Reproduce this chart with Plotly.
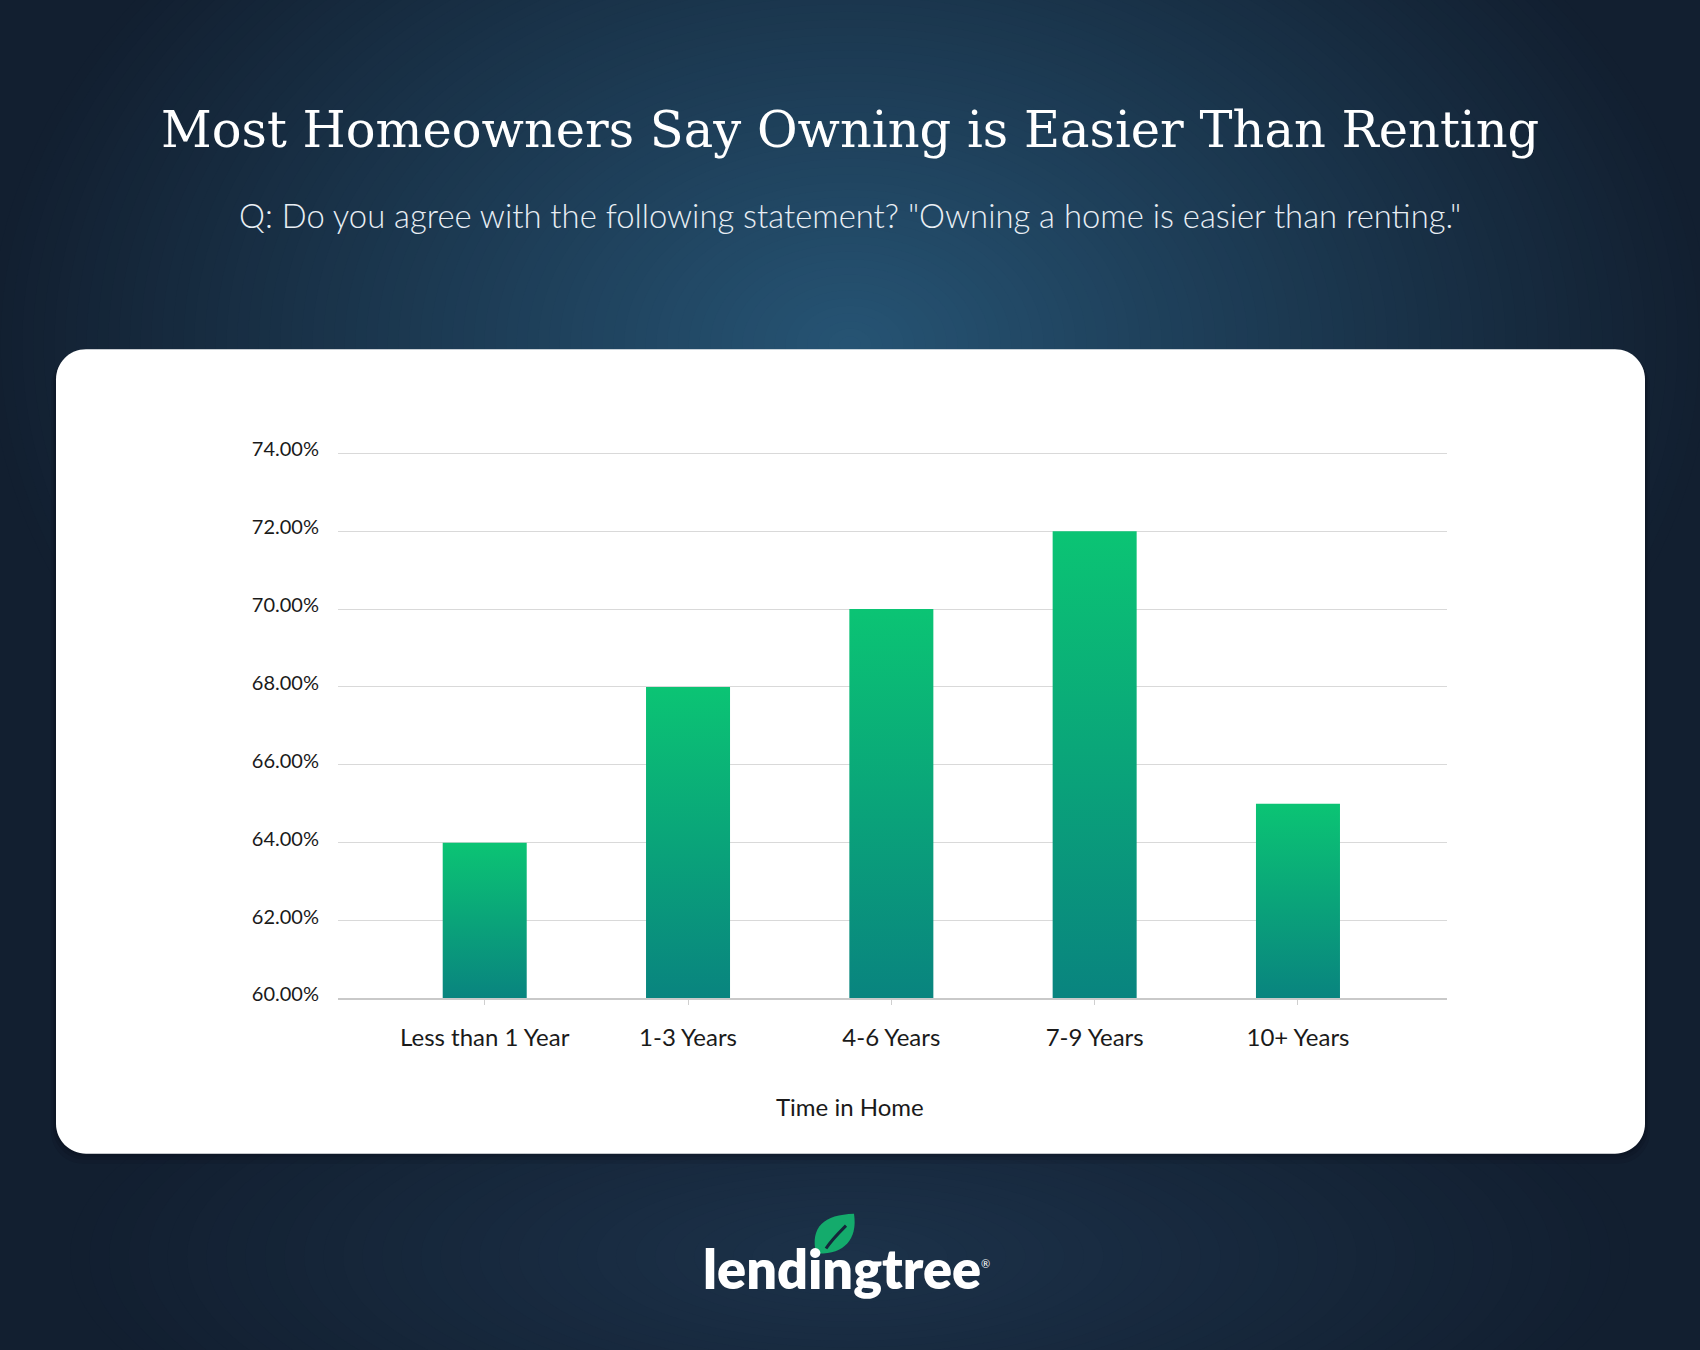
import plotly.graph_objects as go

# ---- data ----
categories = ["Less than 1 Year", "1-3 Years", "4-6 Years", "7-9 Years", "10+ Years"]
values = [64, 68, 70, 72, 65]
y_ticks = [60, 62, 64, 66, 68, 70, 72, 74]
y_tick_labels = ["60.00%", "62.00%", "64.00%", "66.00%", "68.00%", "70.00%", "72.00%", "74.00%"]

title_text = "Most Homeowners Say Owning is Easier Than Renting"
subtitle_text = 'Q: Do you agree with the following statement? "Owning a home is easier than renting."'
x_title = "Time in Home"

W, H = 1700, 1350
KY = 1.007  # small vertical calibration


def px(x):
    return x / W


def py(y):
    return 1 - (y * KY) / H


fig = go.Figure()

# gradient bars (one filled polygon per bar, gradient per bar)
half = 0.2066
for i, (c, v) in enumerate(zip(categories, values)):
    fig.add_trace(go.Scatter(
        x=[i - half, i + half, i + half, i - half, i - half],
        y=[y_ticks[0], y_ticks[0], v, v, y_ticks[0]],
        mode="lines", fill="toself", line=dict(width=0),
        fillgradient=dict(type="vertical",
                          colorscale=[[0, "#09847f"], [1, "#0bc474"]]),
        name=c, hoveron="fills", text=f"{c}: {v:.2f}%", hoverinfo="text",
        showlegend=False,
    ))

shapes = []
shapes.append(dict(type="rect", xref="paper", yref="paper", x0=0, x1=1, y0=0, y1=1,
                   fillcolor="#121f30", line=dict(width=0), layer="below"))


def radial(cx, cy, rx, ry, dark, light, n=60, power=1.0):
    out = []
    for k in range(n):
        s = 1 - k / n
        f = (1 - s) ** power
        col = tuple(round(d + (l - d) * f) for d, l in zip(dark, light))
        out.append(dict(type="circle", xref="paper", yref="paper",
                        x0=px(cx - rx * s), x1=px(cx + rx * s),
                        y0=py(cy + ry * s), y1=py(cy - ry * s),
                        fillcolor="rgb(%d,%d,%d)" % col, line=dict(width=0),
                        layer="below"))
    return out


shapes += radial(850, 1254, 780, 260, (18, 31, 48), (28, 50, 74), n=40, power=1.0)
shapes += radial(850, 340, 860, 620, (18, 31, 48), (38, 84, 116), n=80, power=1.0)


def rounded_rect(x0, y0, x1, y1, r):
    k = 0.5523 * r
    pts = [
        f"M{px(x0 + r)},{py(y0)}",
        f"L{px(x1 - r)},{py(y0)}",
        f"C{px(x1 - r + k)},{py(y0)} {px(x1)},{py(y0 + r - k)} {px(x1)},{py(y0 + r)}",
        f"L{px(x1)},{py(y1 - r)}",
        f"C{px(x1)},{py(y1 - r + k)} {px(x1 - r + k)},{py(y1)} {px(x1 - r)},{py(y1)}",
        f"L{px(x0 + r)},{py(y1)}",
        f"C{px(x0 + r - k)},{py(y1)} {px(x0)},{py(y1 - r + k)} {px(x0)},{py(y1 - r)}",
        f"L{px(x0)},{py(y0 + r)}",
        f"C{px(x0)},{py(y0 + r - k)} {px(x0 + r - k)},{py(y0)} {px(x0 + r)},{py(y0)}",
        "Z",
    ]
    return " ".join(pts)


card_top, card_bottom = 345, 1151
for off, op in [(10, 0.10), (6, 0.12), (3, 0.15)]:
    shapes.append(dict(type="path", xref="paper", yref="paper",
                       path=rounded_rect(56 - off / 2, card_top + off / 2, 1645 + off / 2, card_bottom + off, 32),
                       fillcolor="rgba(5,10,20,%s)" % op, line=dict(width=0), layer="below"))
shapes.append(dict(type="path", xref="paper", yref="paper",
                   path=rounded_rect(56, card_top, 1645, card_bottom, 30),
                   fillcolor="#ffffff", line=dict(width=0), layer="below"))

# leaf of logo
ly = 4
leaf = (f"M{px(816)},{py(1247 + ly)} "
        f"C{px(810)},{py(1220 + ly)} {px(824)},{py(1208 + ly)} {px(854)},{py(1207 + ly)} "
        f"C{px(858)},{py(1234 + ly)} {px(843)},{py(1248 + ly)} {px(816)},{py(1247 + ly)} Z")
shapes.append(dict(type="path", xref="paper", yref="paper", path=leaf,
                   fillcolor="#14ab6c", line=dict(width=0), layer="above"))
vein = (f"M{px(826)},{py(1242 + ly)} "
        f"C{px(831)},{py(1234 + ly)} {px(838)},{py(1227 + ly)} {px(846)},{py(1219 + ly)}")
shapes.append(dict(type="path", xref="paper", yref="paper", path=vein,
                   line=dict(color="#15263a", width=3), layer="above"))

annotations = [
    dict(text=title_text, x=0.5, y=py(125), xref="paper", yref="paper",
         showarrow=False, xanchor="center", yanchor="middle",
         font=dict(family="DejaVu Serif", size=49.5, color="#ffffff")),
    dict(text=subtitle_text, x=0.5, y=py(211), xref="paper", yref="paper",
         showarrow=False, xanchor="center", yanchor="middle",
         font=dict(family="Lato", size=32.8, color="#e8eef4", weight=300)),
    dict(text=x_title, x=0.5, y=py(1104), xref="paper", yref="paper",
         showarrow=False, xanchor="center", yanchor="middle",
         font=dict(family="Lato", size=24, color="#1a1a1a")),
    dict(text="lendingtree", x=px(842), y=py(1262 + ly), xref="paper", yref="paper",
         showarrow=False, xanchor="center", yanchor="middle",
         font=dict(family="Lato", size=54, color="#ffffff", weight=800)),
    dict(text="®", x=px(985), y=py(1257 + ly), xref="paper", yref="paper",
         showarrow=False, xanchor="center", yanchor="middle",
         font=dict(family="Lato", size=11, color="#ffffff")),
]

y_lo, y_hi = 60, 74.3
ppu = 39.0
y_bottom_px = 995.3
y_top_px = y_bottom_px - (y_hi - y_lo) * ppu

fig.update_layout(
    width=W, height=H,
    margin=dict(l=0, r=0, t=0, b=0),
    paper_bgcolor="#121f30",
    plot_bgcolor="rgba(0,0,0,0)",
    shapes=shapes,
    annotations=annotations,
    showlegend=False,
    xaxis=dict(
        domain=[px(338), px(1447)],
        range=[-0.7216, 4.733],
        tickmode="array", tickvals=list(range(len(categories))), ticktext=categories,
        showgrid=False, zeroline=False,
        showline=True, linecolor="#c9c9c9", linewidth=1.5,
        ticks="outside", ticklen=5, tickcolor="#cfcfcf", tickwidth=1,
        ticklabelstandoff=12,
        tickfont=dict(family="Lato", size=24, color="#1a1a1a"),
        fixedrange=True,
    ),
    yaxis=dict(
        domain=[py(y_bottom_px), py(y_top_px)],
        range=[y_lo, y_hi],
        tickmode="array", tickvals=y_ticks, ticktext=y_tick_labels,
        showgrid=True, gridcolor="#d9d9d9", gridwidth=1,
        zeroline=False, showline=False, ticks="",
        ticklabelstandoff=18, ticklabelshift=-4,
        tickfont=dict(family="Lato", size=20, color="#1a1a1a"),
        fixedrange=True,
    ),
)

page_css = (
    "var d=document.documentElement,b=document.body;"
    "d.style.margin='0';d.style.padding='0';d.style.overflow='hidden';d.style.height='1350px';"
    "b.style.margin='0';b.style.padding='0';b.style.overflow='hidden';b.style.height='1350px';"
)

fig.write_html("out.html", config={"displayModeBar": False}, post_script=page_css)
